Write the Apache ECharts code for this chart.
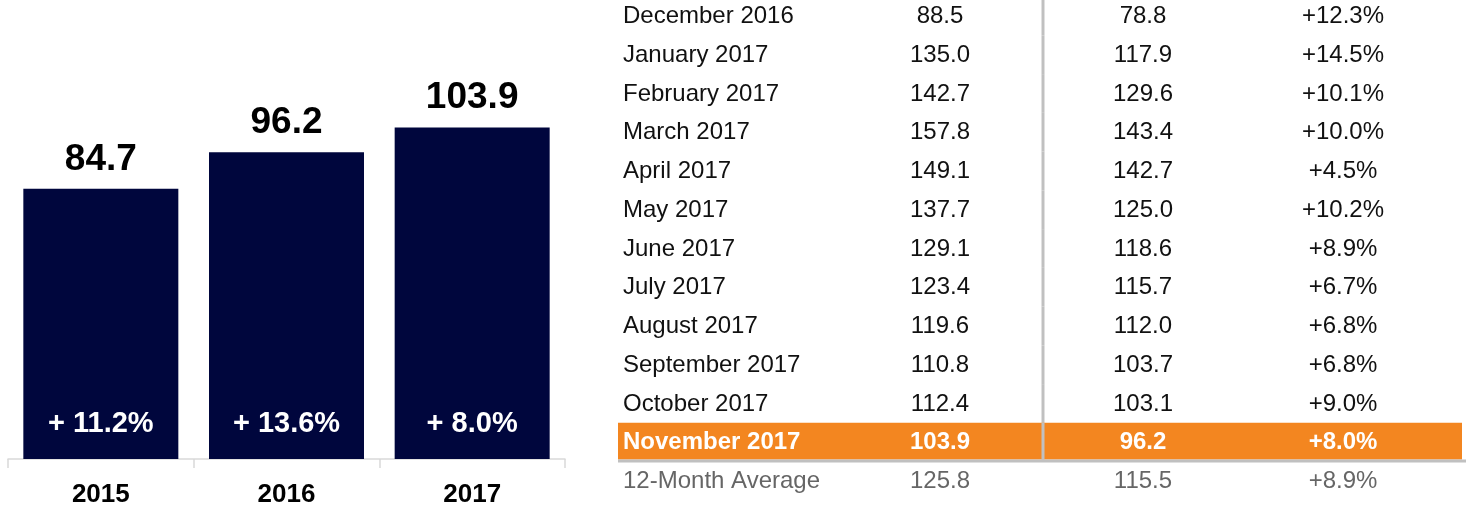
<!DOCTYPE html>
<html>
<head>
<meta charset="utf-8">
<script src="https://cdn.jsdelivr.net/npm/echarts@6/dist/echarts.min.js"></script>
<style>
  html, body { margin: 0; padding: 0; background: #fff; }
  #chart { width: 1466px; height: 506px; }
</style>
</head>
<body>
<div id="chart"></div>
<script>
  // yearly bars
  var years = ['2015', '2016', '2017'];
  var yearValues = [84.7, 96.2, 103.9];
  var yearGrowth = ['+ 11.2%', '+ 13.6%', '+ 8.0%'];

  // monthly table
  var months = ['December 2016', 'January 2017', 'February 2017', 'March 2017', 'April 2017',
    'May 2017', 'June 2017', 'July 2017', 'August 2017', 'September 2017', 'October 2017',
    'November 2017', '12-Month Average'];
  var current = [88.5, 135.0, 142.7, 157.8, 149.1, 137.7, 129.1, 123.4, 119.6, 110.8, 112.4, 103.9, 125.8];
  var prior = [78.8, 117.9, 129.6, 143.4, 142.7, 125.0, 118.6, 115.7, 112.0, 103.7, 103.1, 96.2, 115.5];
  var change = ['+12.3%', '+14.5%', '+10.1%', '+10.0%', '+4.5%', '+10.2%', '+8.9%', '+6.7%',
    '+6.8%', '+6.8%', '+9.0%', '+8.0%', '+8.9%'];

  var highlightRow = 11;
  var averageRow = 12;

  var FONT = '"Liberation Sans", Arial, Helvetica, sans-serif';
  var NAVY = '#00063d';
  var ORANGE = '#f38620';
  var RULE = '#c0c0c0';

  // table column positions (in table x-axis units = px from left edge of table grid)
  var colName = 5, colCur = 322, colDiv = 425, colPrior = 525, colChg = 725, tableW = 848;

  var chart = echarts.init(document.getElementById('chart'));

  function renderRow(params, api) {
    var row = api.value(1);
    var band = api.size([0, 1])[1];
    var left = api.coord([0, row]);
    var right = api.coord([tableW, row]);
    var cy = left[1];
    var top = cy - band / 2, bottom = cy + band / 2;
    var children = [];
    var color = '#111', weight = 'normal';
    if (row === highlightRow) {
      color = '#fff';
      weight = 'bold';
      children.push({
        type: 'rect',
        shape: { x: left[0], y: top, width: right[0] - left[0] - 4, height: band - 2 },
        style: { fill: ORANGE }
      });
      children.push({
        type: 'rect',
        shape: { x: left[0], y: bottom - 2, width: right[0] - left[0], height: 3 },
        style: { fill: RULE }
      });
    }
    if (row === averageRow) color = '#666';
    if (row !== averageRow) {
      var dx = api.coord([colDiv, row])[0];
      children.push({
        type: 'rect',
        shape: { x: dx - 1.5, y: top, width: 3, height: row === highlightRow ? band - 2 : band },
        style: { fill: RULE }
      });
    }
    var cells = [
      [colName, months[row], 'left'],
      [colCur, current[row].toFixed(1), 'center'],
      [colPrior, prior[row].toFixed(1), 'center'],
      [colChg, change[row], 'center']
    ];
    cells.forEach(function (c) {
      var p = api.coord([c[0], row]);
      children.push({
        type: 'text',
        x: p[0], y: p[1] + 0.5,
        style: {
          text: c[1], fill: color, align: c[2], verticalAlign: 'middle',
          fontSize: 24, fontFamily: FONT, fontWeight: weight
        }
      });
    });
    return { type: 'group', children: children };
  }

  chart.setOption({
    animation: false,
    grid: [
      { left: 8, top: 0, width: 557, bottom: 47, outerBoundsMode: 'none' },
      { left: 618, top: -3.4, width: tableW, height: 503.75, outerBoundsMode: 'none' }
    ],
    xAxis: [
      {
        gridIndex: 0,
        type: 'category',
        data: years,
        axisLine: { lineStyle: { color: '#d9d9d9', width: 1.5 } },
        axisTick: { show: true, alignWithLabel: false, length: 9, lineStyle: { color: '#d9d9d9', width: 1.5 } },
        axisLabel: { margin: 23, color: '#000', fontSize: 26, fontWeight: 'bold', fontFamily: FONT }
      },
      { gridIndex: 1, type: 'value', min: 0, max: tableW, show: false }
    ],
    yAxis: [
      { gridIndex: 0, type: 'value', min: 0, max: 143.9, show: false },
      { gridIndex: 1, type: 'category', inverse: true, data: months, show: false }
    ],
    series: [
      {
        type: 'bar',
        xAxisIndex: 0, yAxisIndex: 0,
        data: yearValues,
        barWidth: 155,
        itemStyle: { color: NAVY },
        label: {
          show: true, position: 'top', distance: 11,
          color: '#000', fontSize: 37, fontWeight: 'bold', fontFamily: FONT,
          formatter: function (p) { return p.value.toFixed(1); }
        }
      },
      {
        type: 'bar',
        xAxisIndex: 0, yAxisIndex: 0,
        data: yearValues,
        barWidth: 155,
        barGap: '-100%',
        itemStyle: { color: 'rgba(0,0,0,0)' },
        label: {
          show: true, position: 'insideBottom', distance: 21,
          color: '#fff', fontSize: 29, fontWeight: 'bold', fontFamily: FONT,
          formatter: function (p) { return yearGrowth[p.dataIndex]; }
        }
      },
      {
        type: 'custom',
        xAxisIndex: 1, yAxisIndex: 1,
        data: months.map(function (m, i) { return [0, i]; }),
        renderItem: renderRow,
        clip: false
      }
    ]
  });
</script>
</body>
</html>
